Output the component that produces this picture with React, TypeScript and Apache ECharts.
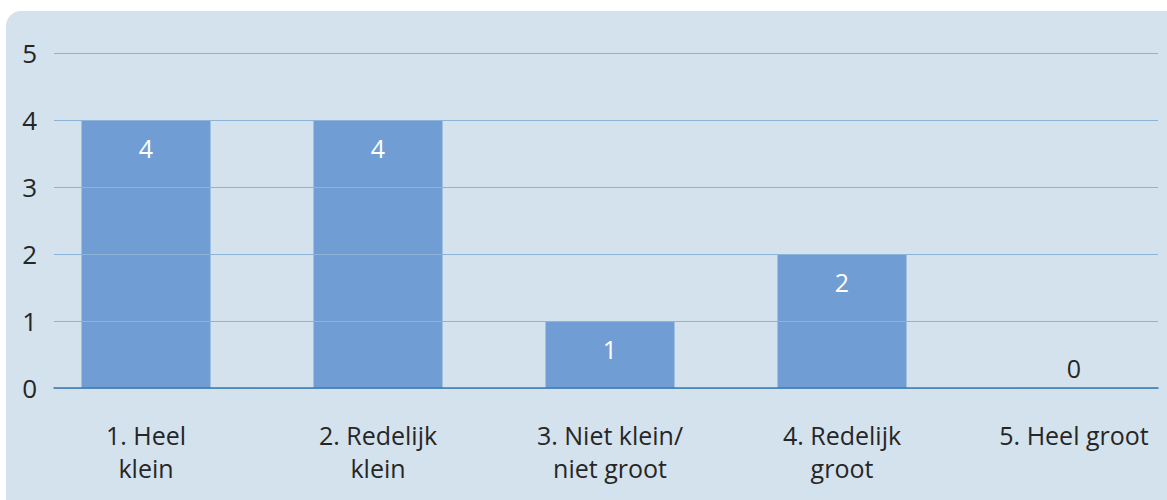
import React, { useEffect, useRef } from "react";
import * as echarts from "echarts";

const categories = [
  "1. Heel\nklein",
  "2. Redelijk\nklein",
  "3. Niet klein/\nniet groot",
  "4. Redelijk\ngroot",
  "5. Heel groot",
];
const values = [4, 4, 1, 2, 0];
const yTicks = [0, 1, 2, 3, 4, 5];

const FONT = "'Open Sans', sans-serif";
const TEXT = "#262626";

export default function App() {
  const ref = useRef<HTMLDivElement>(null);
  useEffect(() => {
    if (!ref.current) return;
    const chart = echarts.init(ref.current, undefined, { renderer: "svg" });
    chart.setOption({
      animation: false,
      backgroundColor: "#ffffff",
      textStyle: { fontFamily: FONT },
      graphic: [
        {
          type: "rect",
          z: -10,
          silent: true,
          shape: { x: 6, y: 11, width: 1240, height: 520, r: 15 },
          style: { fill: "#d4e2ed" },
        },
      ],
      grid: [
        { left: 54, width: 1104, top: 53, bottom: 112 },
        { left: 30, width: 1160, top: 53, bottom: 112 },
      ],
      xAxis: [
        {
          type: "category",
          gridIndex: 0,
          data: categories,
          z: 5,
          axisLine: { show: true, lineStyle: { color: "#3d7aaf", width: 1.5 } },
          axisTick: { show: false },
          axisLabel: { show: false },
          splitLine: { show: false },
        },
        {
          type: "category",
          gridIndex: 1,
          data: categories,
          axisLine: { show: false },
          axisTick: { show: false },
          axisLabel: {
            show: true,
            interval: 0,
            margin: 31,
            fontSize: 25,
            lineHeight: 32.5,
            color: TEXT,
            fontFamily: FONT,
          },
        },
      ],
      yAxis: [
        {
          type: "value",
          gridIndex: 0,
          min: yTicks[0],
          max: yTicks[yTicks.length - 1],
          interval: 1,
          z: 4,
          axisLine: { show: false },
          axisTick: { show: false },
          axisLabel: { fontSize: 26, color: TEXT, margin: 17, fontFamily: FONT },
          splitLine: { show: true, lineStyle: { color: "#8cb4d7", width: 1 } },
        },
        {
          type: "value",
          gridIndex: 1,
          min: yTicks[0],
          max: yTicks[yTicks.length - 1],
          interval: 1,
          show: false,
          splitLine: { show: false },
        },
      ],
      series: [
        {
          type: "bar",
          xAxisIndex: 1,
          yAxisIndex: 1,
          z: 2,
          barWidth: 129,
          itemStyle: { color: "#709ed4" },
          label: {
            show: true,
            position: "insideTop",
            distance: 15,
            color: "#ffffff",
            fontSize: 25,
            fontFamily: FONT,
          },
          data: values.map((v) =>
            v === 0
              ? {
                  value: v,
                  label: { position: "top", distance: 8, color: TEXT },
                }
              : v
          ),
        },
      ],
    });
    return () => chart.dispose();
  }, []);
  return (
    <div
      style={{
        position: "absolute",
        left: 0,
        top: 0,
        width: 1167,
        height: 500,
        overflow: "hidden",
      }}
    >
      <div ref={ref} style={{ width: 1200, height: 500 }} />
    </div>
  );
}
